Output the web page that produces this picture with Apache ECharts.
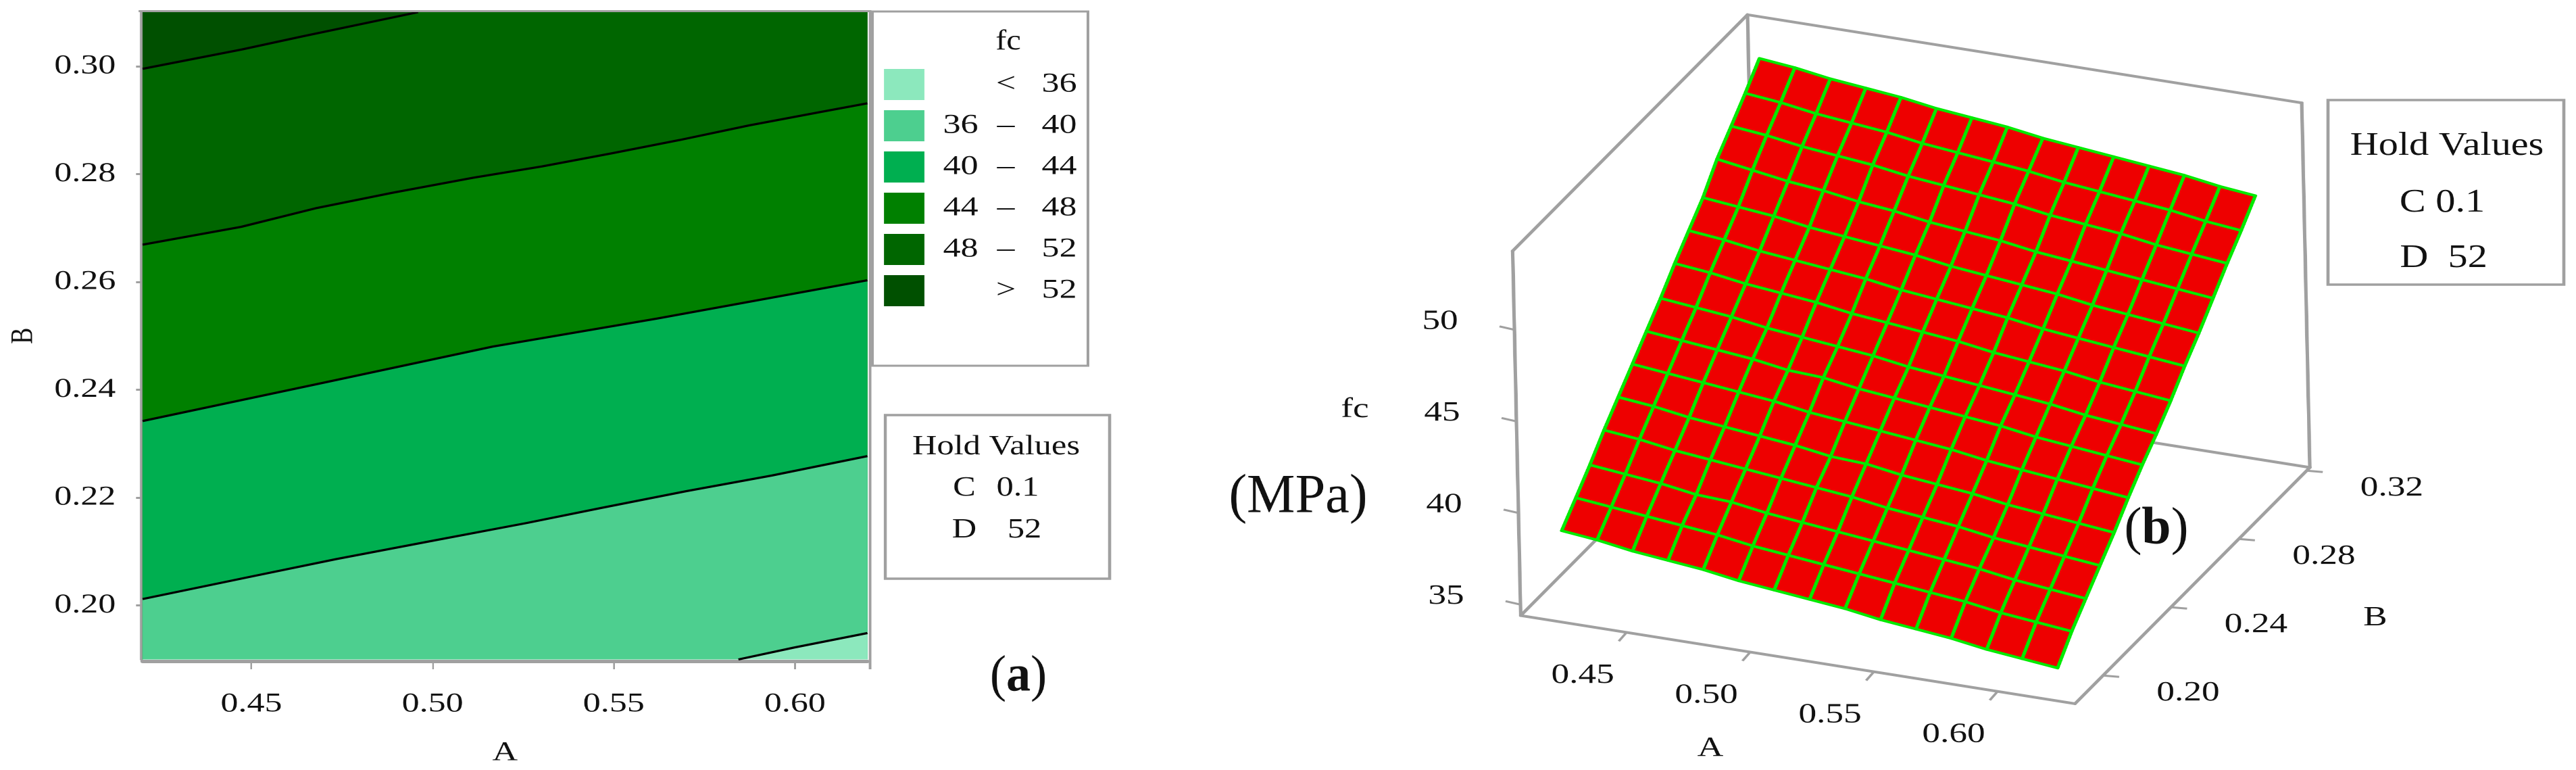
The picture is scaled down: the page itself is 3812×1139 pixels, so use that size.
<!DOCTYPE html>
<html>
<head>
<meta charset="utf-8">
<style>
html,body{margin:0;padding:0;background:#fff;overflow:hidden}
#chart{position:absolute;left:0;top:0;height:1139px;transform-origin:0 0}
</style>
<script src="https://cdn.jsdelivr.net/npm/echarts@6/dist/echarts.min.js"></script>
</head>
<body>
<div id="chart"></div>
<script>
// ---------- data: contour panel ----------
const contour52 = [[0.42,0.2995],[0.4475,0.3031],[0.464,0.3055],[0.496,0.31]];
const contour48 = [[0.42,0.2669],[0.4472,0.2702],[0.4681,0.2737],[0.4888,0.2765],[0.5112,0.2793],[0.5302,0.2814],[0.5492,0.2838],[0.5682,0.2863],[0.5873,0.289],[0.6063,0.2914],[0.62,0.2931]];
const contour44 = [[0.42,0.2342],[0.4713,0.2415],[0.5166,0.248],[0.562,0.2532],[0.62,0.2603]];
const contour40 = [[0.42,0.2012],[0.4502,0.2054],[0.4734,0.2086],[0.5,0.212],[0.526,0.2153],[0.5466,0.2181],[0.57,0.2212],[0.5936,0.2241],[0.62,0.2277]];
const contour36 = [[0.5844,0.19],[0.5997,0.1922],[0.62,0.1949]];
const topEdge = [[0.42,0.31],[0.62,0.31]];
const contourTicksA = [0.45,0.50,0.55,0.60];
const contourTicksB = [0.20,0.22,0.24,0.26,0.28,0.30];
const bandNames = ['< 36','36 – 40','40 – 44','44 – 48','48 – 52','> 52'];
const bandColors = ['#8CE8BD','#4DCF8F','#00AF50','#008000','#006600','#005000'];

// ---------- data: surface panel ----------
const surfaceA = [0.42,0.4343,0.4486,0.4629,0.4771,0.4914,0.5057,0.52,0.5343,0.5486,0.5629,0.5771,0.5914,0.6057,0.62];
const surfaceB = [0.19,0.1986,0.2071,0.2157,0.2243,0.2329,0.2414,0.25,0.2586,0.2671,0.2757,0.2843,0.2929,0.3014,0.31];
const surfaceFc = [
[38.7,38.5,38.2,38.0,37.8,37.5,37.3,37.1,36.9,36.6,36.4,36.2,35.9,35.7,35.5],
[39.7,39.5,39.3,39.1,38.9,38.6,38.4,38.2,38.0,37.8,37.6,37.4,37.1,36.9,36.7],
[40.7,40.5,40.3,40.0,39.9,39.6,39.4,39.2,39.0,38.8,38.6,38.4,38.1,37.9,37.7],
[41.8,41.6,41.3,41.1,40.9,40.7,40.5,40.3,40.0,39.8,39.6,39.3,39.1,38.9,38.7],
[42.8,42.6,42.3,42.1,41.9,41.7,41.4,41.3,41.0,40.8,40.6,40.3,40.1,39.9,39.7],
[43.8,43.6,43.4,43.2,43.0,42.7,42.5,42.3,42.1,41.9,41.6,41.4,41.2,41.0,40.8],
[44.8,44.6,44.4,44.2,43.9,43.8,43.5,43.3,43.1,42.9,42.7,42.4,42.2,42.0,41.8],
[45.8,45.6,45.4,45.1,44.9,44.7,44.5,44.2,44.0,43.8,43.6,43.4,43.1,42.9,42.7],
[46.9,46.7,46.4,46.2,46.0,45.7,45.5,45.3,45.1,44.8,44.6,44.4,44.1,43.9,43.7],
[47.9,47.7,47.4,47.2,47.0,46.8,46.5,46.3,46.1,45.9,45.6,45.4,45.2,45.0,44.8],
[48.9,48.7,48.5,48.2,48.0,47.8,47.6,47.3,47.1,46.9,46.7,46.4,46.2,46.0,45.8],
[50.2,49.9,49.6,49.4,49.1,48.9,48.6,48.4,48.2,47.9,47.7,47.5,47.3,47.1,46.9],
[51.2,51.0,50.7,50.5,50.3,50.0,49.8,49.6,49.4,49.1,48.9,48.7,48.4,48.2,48.0],
[52.2,52.0,51.7,51.5,51.3,51.0,50.8,50.6,50.4,50.1,49.9,49.7,49.5,49.2,49.0],
[53.3,53.1,52.8,52.6,52.4,52.1,51.9,51.7,51.4,51.2,51.0,50.8,50.6,50.3,50.1]
];
const cubeA = [0.4072,0.6313];
const cubeB = [0.1835,0.3219];
const cubeFc = [34.4,54.3];
const surfaceTicksA = [0.45,0.50,0.55,0.60];
const surfaceTicksB = [0.20,0.24,0.28,0.32];
const surfaceTicksFc = [35,40,45,50];

// ---------- layout ----------
const SX = 1.3;                       // the reference is stretched horizontally
const PW = 3812, PH = 1139;
const lx = v => v / SX;
const FONT = '"Liberation Serif","Times New Roman",serif';
const GRAY = '#A0A0A0';
const el = document.getElementById('chart');
el.style.width = (PW / SX) + 'px';
el.style.transform = 'scaleX(' + SX + ')';

// oblique camera of the surface panel, result in plane units
function project(a, b, f) {
  return [
    2313.2 + 3660 * (a - 0.42) + 2511 * (b - 0.19) - 0.6 * (f - 35),
    885.3 + 582 * (a - 0.42) - 2525 * (b - 0.19) - 27.1 * (f - 35)
  ];
}

function bandSeries(name, color, pts) {
  return {
    name, type: 'custom', xAxisIndex: 0, yAxisIndex: 0, silent: true,
    itemStyle: { color }, data: pts,
    renderItem: (params, api) => {
      if (params.dataIndex !== 0) return null;
      const first = pts[0], last = pts[pts.length - 1];
      const poly = pts.concat([[last[0], 0.19], [first[0], 0.19]]).map(p => api.coord(p));
      return { type: 'polygon', shape: { points: poly }, style: { fill: color } };
    }
  };
}
function contourSeries(name, pts) {
  return {
    name, type: 'line', xAxisIndex: 0, yAxisIndex: 0, data: pts, silent: true,
    symbol: 'none', lineStyle: { color: '#000', width: 3.2 }, z: 3
  };
}

// cube edges: [from, to] as [aIndex,bIndex,fIndex]
const cubeEdges = [
  [[0,1,1],[0,1,0]], [[0,0,0],[0,1,0]], [[0,1,0],[1,1,0]],
  [[0,0,0],[0,0,1]], [[0,0,1],[0,1,1]], [[0,1,1],[1,1,1]],
  [[1,1,1],[1,1,0]], [[1,1,0],[1,0,0]], [[1,0,0],[0,0,0]]
];
const cubePt = c => project(cubeA[c[0]], cubeB[c[1]], cubeFc[c[2]]);

const tickLines = [];
const tickTexts = [];
surfaceTicksA.forEach(v => {
  const p = project(v, cubeB[0], cubeFc[0]);
  tickLines.push([p, [p[0] - 11.5, p[1] + 13]]);
  tickTexts.push([p[0] - 65, p[1] + 64, v.toFixed(2)]);
});
surfaceTicksB.forEach(v => {
  const p = project(cubeA[1], v, cubeFc[0]);
  tickLines.push([p, [p[0] + 24, p[1] + 2]]);
  tickTexts.push([p[0] + 126, p[1] + 26, v.toFixed(2)]);
});
surfaceTicksFc.forEach(v => {
  const p = project(cubeA[0], cubeB[0], v);
  tickLines.push([p, [p[0] - 22, p[1] - 5]]);
  tickTexts.push([p[0] - 110, p[1] - 12, String(v)]);
});
tickTexts.push([2005, 606, 'fc'], [2531, 1107, 'A'], [3515, 914, 'B']);

const cells = [];
for (let k = 0; k < surfaceB.length - 1; k++)
  for (let i = 0; i < surfaceA.length - 1; i++) cells.push([i, k]);

function gText(x, y, text, size, stretch, extra) {
  return Object.assign({
    type: 'text', x: lx(x), y, scaleX: stretch / SX, silent: true, z: 20,
    style: { text, fontFamily: FONT, fontSize: size, fill: '#111', align: 'center', verticalAlign: 'middle' }
  }, extra || {});
}
function gBox(x0, y0, x1, y1, w) {
  return { type: 'rect', silent: true, z: 19,
    shape: { x: lx(x0), y: y0, width: lx(x1 - x0), height: y1 - y0 },
    style: { fill: 'none', stroke: GRAY, lineWidth: w } };
}
function gLine(x0, y0, x1, y1, w) {
  return { type: 'line', silent: true, z: 19,
    shape: { x1: lx(x0), y1: y0, x2: lx(x1), y2: y1 },
    style: { stroke: GRAY, lineWidth: w } };
}

const option = {
  animation: false,
  backgroundColor: '#fff',
  textStyle: { fontFamily: FONT },
  grid: [
    { left: lx(211), top: 18, width: lx(1072.6), height: 967, containLabel: false },
    { left: 0, top: 0, width: lx(PW), height: PH }
  ],
  xAxis: [
    { type: 'value', gridIndex: 0, min: 0.42, max: 0.62, offset: 2.5,
      name: 'A', nameLocation: 'middle', nameGap: 116,
      nameTextStyle: { fontFamily: FONT, fontSize: 40, color: '#111' },
      axisLine: { show: true, onZero: false, lineStyle: { color: GRAY, width: 5 } },
      axisTick: { show: true, length: 12, customValues: contourTicksA, lineStyle: { color: GRAY, width: 2 } },
      axisLabel: { customValues: contourTicksA, margin: 44, fontFamily: FONT, fontSize: 40, color: '#111', formatter: v => v.toFixed(2) },
      splitLine: { show: false } },
    { type: 'value', gridIndex: 1, min: 0, max: PW, show: false }
  ],
  yAxis: [
    { type: 'value', gridIndex: 0, min: 0.19, max: 0.31, offset: 1.5,
      name: 'B', nameLocation: 'middle', nameGap: 116, nameRotate: 90,
      nameTextStyle: { fontFamily: FONT, fontSize: 36, color: '#111' },
      axisLine: { show: true, onZero: false, lineStyle: { color: GRAY, width: 3.5 } },
      axisTick: { show: true, length: 6, customValues: contourTicksB, lineStyle: { color: GRAY, width: 3 } },
      axisLabel: { customValues: contourTicksB, margin: 29, fontFamily: FONT, fontSize: 40, color: '#111', formatter: v => v.toFixed(2) },
      splitLine: { show: false } },
    { type: 'value', gridIndex: 1, min: 0, max: PH, inverse: true, show: false }
  ],
  legend: {
    show: true, orient: 'vertical', left: lx(1308), top: 102, padding: 0,
    icon: 'rect', itemWidth: lx(60), itemHeight: 46, itemGap: 15, selectedMode: false,
    data: bandNames,
    formatter: name => {
      const parts = name.split(' ');
      return parts.length === 3
        ? '{a|' + parts[0] + '}{b|' + parts[1] + '}{c|' + parts[2] + '}'
        : '{a|}{b|' + parts[0] + '}{c|' + parts[1] + '}';
    },
    textStyle: {
      fontFamily: FONT, fontSize: 40, color: '#111',
      rich: {
        a: { width: lx(94), align: 'center', fontFamily: FONT, fontSize: 40, color: '#111' },
        b: { width: lx(40), align: 'center', fontFamily: FONT, fontSize: 40, color: '#111' },
        c: { width: lx(118), align: 'center', fontFamily: FONT, fontSize: 40, color: '#111' }
      }
    }
  },
  graphic: { elements: [
    gLine(205, 16.5, 1286, 16.5, 3),
    gLine(1287.5, 15, 1287.5, 990, 3),
    gBox(1291, 17, 1610, 541, 3),
    gBox(1310, 614, 1642, 856, 3.5),
    gBox(3445, 148, 3794, 421, 3.5),
    gText(1492, 62, 'fc', 42, 1.15),
    gText(1474, 661, 'Hold Values', 41, 1.23),
    gText(1427, 722, 'C', 41, 1.23),
    gText(1506, 722, '0.1', 41, 1.23),
    gText(1427, 784, 'D', 41, 1.23),
    gText(1516, 784, '52', 41, 1.23),
    gText(3621, 216, 'Hold Values', 49, 1.19),
    gText(3614, 300, 'C 0.1', 49, 1.19),
    gText(3616, 382, 'D  52', 49, 1.19),
    gText(1921, 736, '(MPa)', 82, 0.98),
    { type: 'text', x: lx(1507), y: 1002, scaleX: 0.95 / SX, silent: true, z: 20,
      style: { text: '{n|(}{m|a}{n|)}', align: 'center', verticalAlign: 'middle',
        rich: { n: { fontFamily: FONT, fontSize: 76, fill: '#111' }, m: { fontFamily: FONT, fontSize: 76, fontWeight: 'bold', fill: '#111' } } } },
    { type: 'text', x: lx(3191), y: 784, scaleX: 1 / SX, silent: true, z: 20,
      style: { text: '{n|(}{m|b}{n|)}', align: 'center', verticalAlign: 'middle',
        rich: { n: { fontFamily: FONT, fontSize: 78, fill: '#111' }, m: { fontFamily: FONT, fontSize: 78, fontWeight: 'bold', fill: '#111' } } } }
  ] },
  series: [
    bandSeries(bandNames[5], bandColors[5], topEdge),
    bandSeries(bandNames[4], bandColors[4], contour52.concat([[0.62, 0.31]])),
    bandSeries(bandNames[3], bandColors[3], contour48),
    bandSeries(bandNames[2], bandColors[2], contour44),
    bandSeries(bandNames[1], bandColors[1], contour40),
    bandSeries(bandNames[0], bandColors[0], contour36),
    contourSeries('fc 52', contour52),
    contourSeries('fc 48', contour48),
    contourSeries('fc 44', contour44),
    contourSeries('fc 40', contour40),
    contourSeries('fc 36', contour36),
    { name: 'cube', type: 'custom', xAxisIndex: 1, yAxisIndex: 1, silent: true, clip: false,
      data: cubeEdges.map((e, i) => [i]),
      renderItem: (params, api) => {
        const e = cubeEdges[params.dataIndex];
        const a = api.coord(cubePt(e[0])), b = api.coord(cubePt(e[1]));
        return { type: 'line', shape: { x1: a[0], y1: a[1], x2: b[0], y2: b[1] },
          style: { stroke: GRAY, lineWidth: 4, lineCap: 'round' } };
      } },
    { name: 'ticks', type: 'custom', xAxisIndex: 1, yAxisIndex: 1, silent: true, clip: false,
      data: tickLines.map((e, i) => [i]),
      renderItem: (params, api) => {
        const e = tickLines[params.dataIndex];
        const a = api.coord(e[0]), b = api.coord(e[1]);
        return { type: 'line', shape: { x1: a[0], y1: a[1], x2: b[0], y2: b[1] },
          style: { stroke: GRAY, lineWidth: 3 } };
      } },
    { name: 'fc surface', type: 'custom', xAxisIndex: 1, yAxisIndex: 1, silent: true, clip: false, z: 4,
      data: cells,
      renderItem: (params, api) => {
        const i = api.value(0), k = api.value(1);
        const corners = [[i, k], [i + 1, k], [i + 1, k + 1], [i, k + 1]].map(c =>
          api.coord(project(surfaceA[c[0]], surfaceB[c[1]], surfaceFc[c[1]][c[0]])));
        return { type: 'polygon', shape: { points: corners },
          style: { fill: '#EE0000', stroke: '#00EA00', lineWidth: 4, lineJoin: 'round' } };
      } },
    { name: 'surface labels', type: 'custom', xAxisIndex: 1, yAxisIndex: 1, silent: true, clip: false, z: 5,
      data: tickTexts.map(t => [t[0], t[1]]),
      renderItem: (params, api) => {
        const t = tickTexts[params.dataIndex];
        const p = api.coord([t[0], t[1]]);
        return { type: 'text', x: p[0], y: p[1],
          style: { text: t[2], fontFamily: FONT, fontSize: 41, fill: '#111', align: 'center', verticalAlign: 'middle' } };
      } }
  ]
};
const chart = echarts.init(el, null, { renderer: 'canvas', devicePixelRatio: 2, width: PW / SX, height: PH });
chart.setOption(option);
</script>
</body>
</html>
